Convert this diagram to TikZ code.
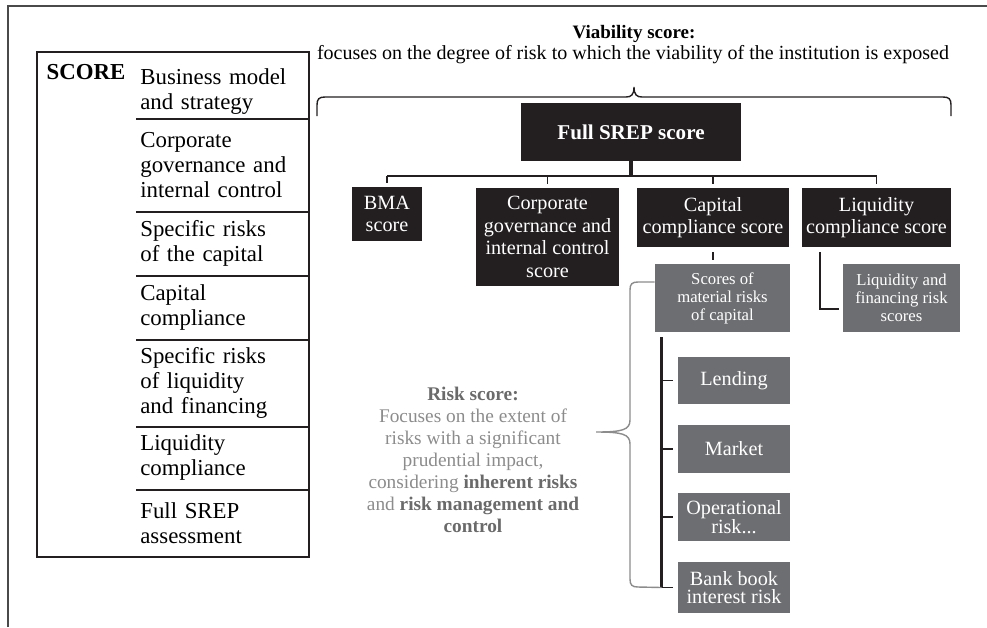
\documentclass[tikz,border=0pt]{standalone}
\usepackage{fontspec}
\setmainfont{Liberation Serif}
\usepackage{xcolor}
\usetikzlibrary{calc}

\definecolor{boxblack}{HTML}{231F20}
\definecolor{boxgrey}{HTML}{6D6E71}
\definecolor{risklight}{HTML}{8C8C8C}
\definecolor{riskdark}{HTML}{6A6A6A}
\definecolor{framegrey}{HTML}{4A4A4A}

\tikzset{
  darkbox/.style={fill=boxblack, text=white, align=center, inner sep=0pt,
    font=\fontsize{11.5}{12.8}\selectfont},
  greybox/.style={fill=boxgrey, text=white, align=center, inner sep=0pt,
    font=\fontsize{9.5}{10.2}\selectfont},
  riskbox/.style={greybox, minimum width=2.24cm,
    font=\fontsize{11.5}{10.6}\selectfont},
  rowcell/.style={anchor=north west, align=left, inner xsep=0.08cm, inner ysep=0pt,
    text width=3.3cm, font=\fontsize{13}{14.2}\selectfont},
  link/.style={line width=1.1pt, boxblack},
  sep/.style={line width=1pt, boxblack},
  brace/.style={line width=0.8pt, boxblack},
}

\begin{document}
\begin{tikzpicture}[x=0.02cm, y=-0.02cm]
    \useasboundingbox (0,0) rectangle (987,627);
    % frame
    \draw[framegrey, line width=0.6pt] (8,627) -- (8,6) -- (987,6);

    % score table
    \draw[line width=0.8pt, boxblack] (37,52) rectangle (309,557);
    \node[font=\bfseries\fontsize{13}{14}\selectfont] (score) at (86,72) {SCORE};
    \node[rowcell, minimum height=1.32cm, text depth=0.34cm] (r1) at (136,52) {Business model\\and strategy};
    \node[rowcell, minimum height=1.86cm] (r2) at (136,118) {Corporate\\governance and\\internal control};
    \node[rowcell, minimum height=1.28cm] (r3) at (136,211) {Specific risks\\of the capital};
    \node[rowcell, minimum height=1.28cm] (r4) at (136,275) {Capital\\compliance};
    \node[rowcell, minimum height=1.74cm] (r5) at (136,339) {Specific risks\\of liquidity\\and financing};
    \node[rowcell, minimum height=1.26cm] (r6) at (136,426) {Liquidity\\compliance};
    \node[rowcell, minimum height=1.36cm] (r7) at (136,489) {Full SREP\\assessment};
    \draw[sep] (r1.south west) -- (r1.south east);
    \draw[sep] (r2.south west) -- (r2.south east);
    \draw[sep] (r3.south west) -- (r3.south east);
    \draw[sep] (r4.south west) -- (r4.south east);
    \draw[sep] (r5.south west) -- (r5.south east);
    \draw[sep] (r6.south west) -- (r6.south east);

    % viability score
    \node[font=\bfseries\fontsize{10.8}{12}\selectfont] (viab) at (634,34) {Viability score:};
    \node[font=\fontsize{11.4}{12}\selectfont] (focus) at (633,55)
      {focuses on the degree of risk to which the viability of the institution is exposed};
    \draw[brace] (317,116) -- (317,105) .. controls (317,99) and (319,97) .. (325,97)
      -- (626,97) .. controls (631,97) and (634,95) .. (634,87)
      .. controls (634,95) and (637,97) .. (642,97)
      -- (943,97) .. controls (949,97) and (951,99) .. (951,105) -- (951,116);

    % score boxes
    \node[darkbox, minimum width=4.4cm, minimum height=1.16cm,
      font=\bfseries\fontsize{12}{13}\selectfont] (full) at (631,132) {Full SREP score};
    \node[darkbox, minimum width=1.4cm, minimum height=1.08cm] (bma) at (387,214) {BMA\\score};
    \node[darkbox, minimum width=2.86cm, minimum height=1.96cm] (corp) at (547.5,237)
      {Corporate\\governance and\\internal control\\score};
    \node[darkbox, minimum width=3.04cm, minimum height=1.18cm] (cap) at (713,217.5)
      {Capital\\compliance score};
    \node[darkbox, minimum width=2.98cm, minimum height=1.18cm] (liq) at (876.5,217.5)
      {Liquidity\\compliance score};
    \coordinate (bus) at ($(full.south)+(0,15)$);
    \draw[line width=2pt, boxblack] (full.south) -- (bus);
    \draw[link] (bma.north |- bus) -- (liq.north |- bus);
    \draw[link] (bma.north |- bus) -- ($(bma.north)+(0,-4)$);
    \draw[link] (corp.north |- bus) -- ($(corp.north)+(0,-4)$);
    \draw[link] (cap.north |- bus) -- ($(cap.north)+(0,-4)$);
    \draw[link] (liq.north |- bus) -- ($(liq.north)+(0,-4)$);

    % material risks
    \node[greybox, minimum width=2.7cm, minimum height=1.36cm] (mat) at (722.5,298)
      {Scores of\\material risks\\of capital};
    \node[greybox, minimum width=2.34cm, minimum height=1.36cm] (liqfin) at (901.5,298)
      {Liquidity and\\financing risk\\scores};
    \draw[link] ($(cap.south)+(0,5)$) -- ($(cap.south)+(0,13)$);
    \draw[link] ($(liq.south west)+(18,5)$) |- ($(liqfin.west)+(-4,11)$);

    \node[riskbox, minimum height=0.94cm] (lend) at (734,380.5) {Lending};
    \node[riskbox, minimum height=0.96cm] (market) at (734,449) {Market};
    \node[riskbox, minimum height=0.96cm] (oper) at (734,517) {Operational\\risk...};
    \node[riskbox, minimum height=1.02cm] (bank) at (734,587.5) {Bank book\\interest risk};
    \coordinate (spine) at ($(mat.south west)+(7,5)$);
    \draw[line width=1.4pt, boxblack] (spine) -- (spine |- bank.west);
    \draw[link] (spine |- lend.west) -- ($(lend.west)+(-5,0)$);
    \draw[link] (spine |- market.west) -- ($(market.west)+(-5,0)$);
    \draw[link] (spine |- oper.west) -- ($(oper.west)+(-5,0)$);
    \draw[link] (spine |- bank.west) -- ($(bank.west)+(-5,0)$);

    % risk score
    \draw[line width=0.8pt, risklight] ($(mat.west)+(0,-16)$) -- (638,282)
      .. controls (632,282) and (630,284) .. (630,290) -- (630,420)
      .. controls (630,430) and (622,432) .. (596,432)
      .. controls (622,432) and (630,434) .. (630,444) -- (630,579)
      .. controls (630,585) and (632,587) .. (638,587) -- (spine |- bank.west);
    \node[align=center, text=risklight, font=\fontsize{11}{12.5}\selectfont] (risk) at (473,460)
      {{\bfseries\color{riskdark}Risk score:}\\Focuses on the extent of\\risks with a significant\\prudential impact,\\considering {\bfseries\color{riskdark}inherent risks}\\and {\bfseries\color{riskdark}risk management and}\\{\bfseries\color{riskdark}control}};
\end{tikzpicture}
\end{document}
